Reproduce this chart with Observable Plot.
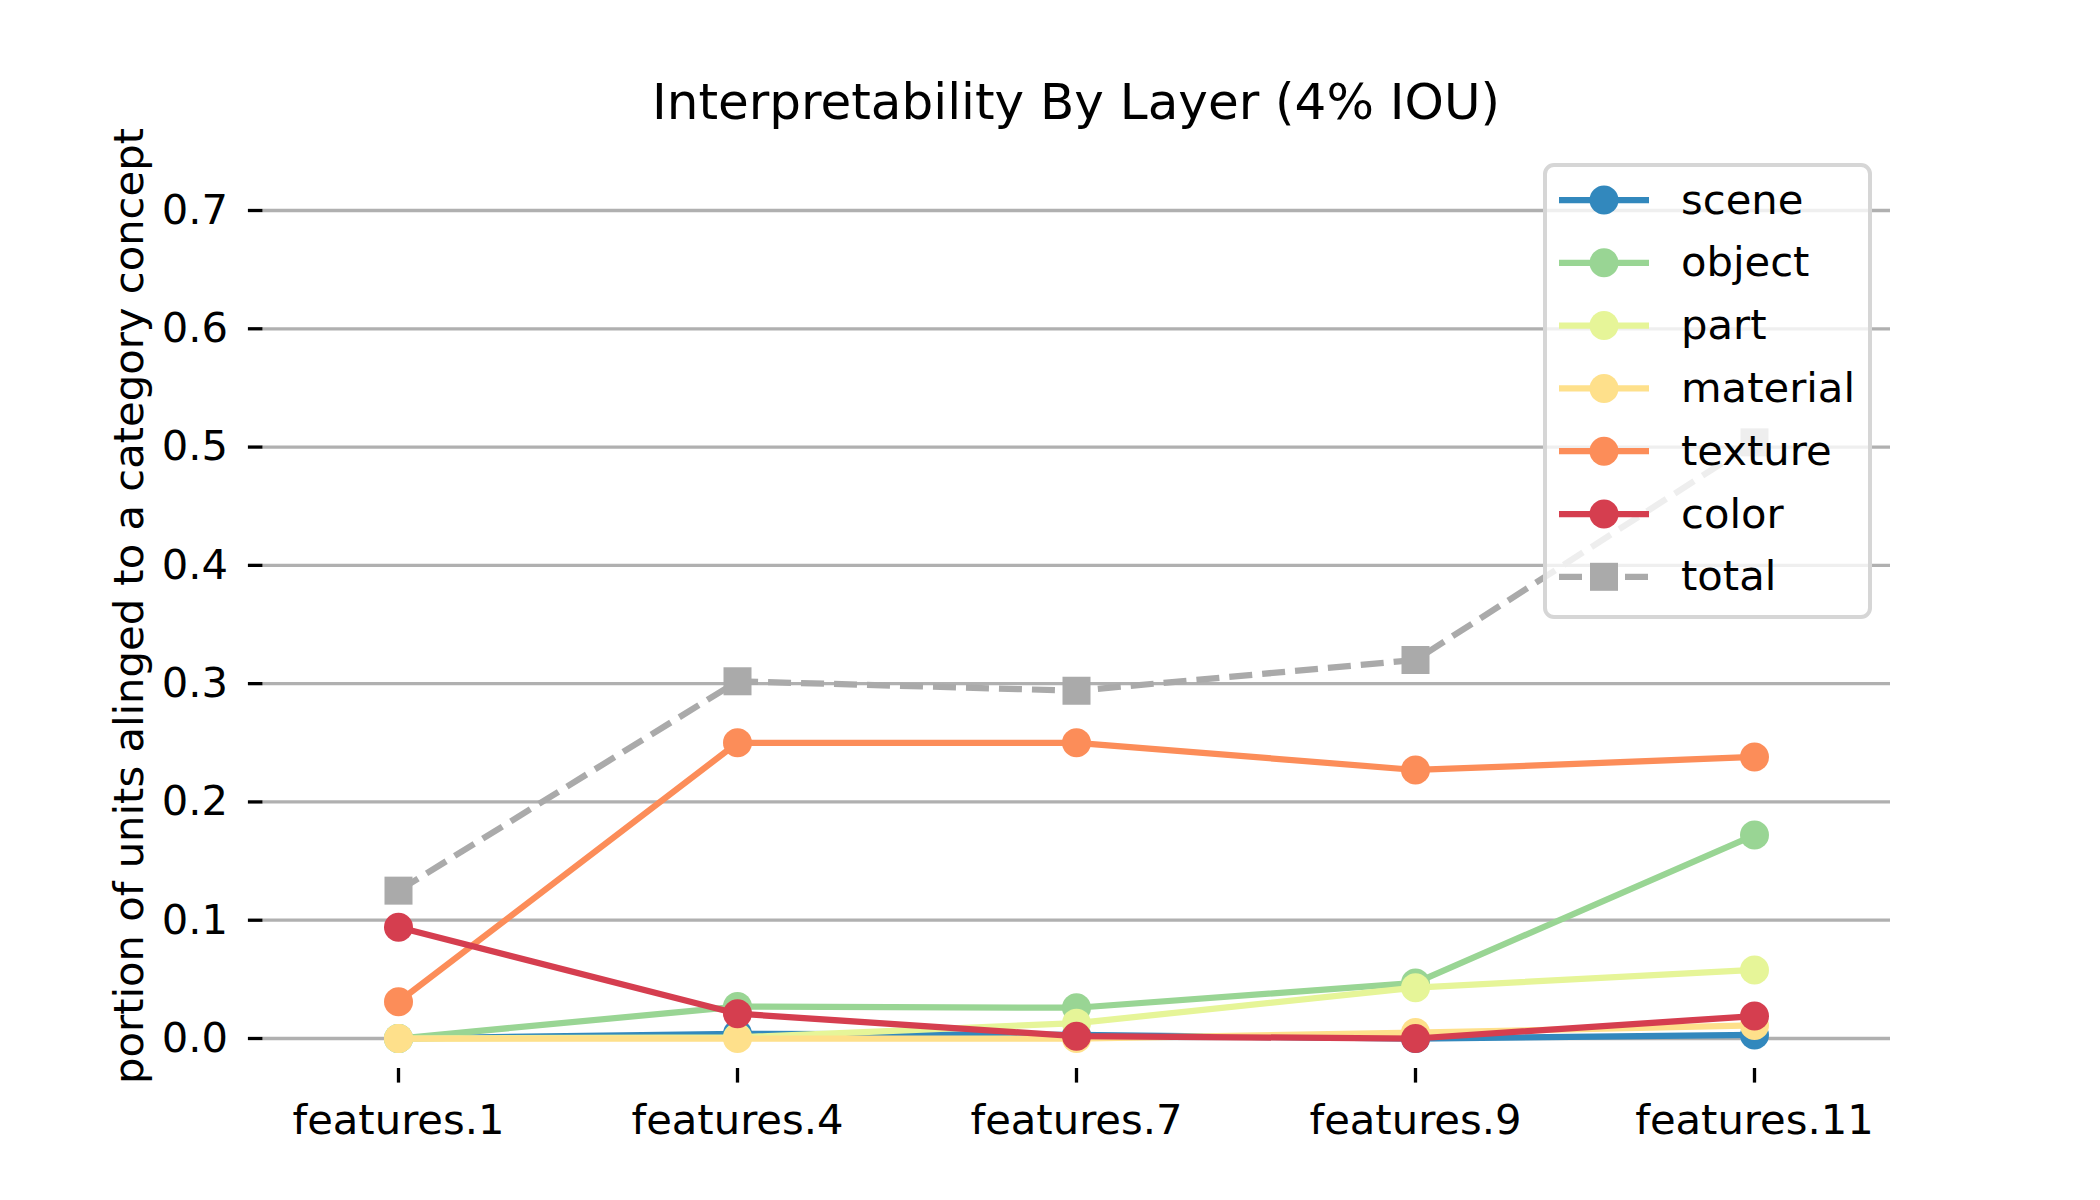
<!DOCTYPE html>
<html>
<head>
<meta charset="utf-8">
<script src="https://cdn.jsdelivr.net/npm/d3@7"></script>
<script src="https://cdn.jsdelivr.net/npm/@observablehq/plot@0.6"></script>
<style>
  html, body { margin: 0; padding: 0; background: #fff; overflow: hidden; }
  #chart { position: relative; width: 2100px; height: 1200px; }
</style>
</head>
<body>
<div id="chart"></div>
<script>
// ---- data ----
const layers   = ["features.1", "features.4", "features.7", "features.9", "features.11"];
const seriesNames = ["scene", "object", "part", "material", "texture", "color", "total"];
const scene    = [0.000, 0.004, 0.003, 0.000, 0.003];
const object   = [0.000, 0.027, 0.026, 0.047, 0.172];
const part     = [0.000, 0.001, 0.013, 0.043, 0.058];
const material = [0.000, 0.000, 0.000, 0.005, 0.011];
const texture  = [0.031, 0.250, 0.250, 0.227, 0.238];
const color    = [0.094, 0.021, 0.002, 0.000, 0.019];
const total    = [0.125, 0.302, 0.294, 0.320, 0.504];
const yTicks   = [0, 0.1, 0.2, 0.3, 0.4, 0.5, 0.6, 0.7];
const titleText = "Interpretability By Layer (4% IOU)";
const yLabelText = "portion of units alinged to a category concept";

// ---- styles ----
const palette = ["#3288bd", "#99d594", "#e6f598", "#fee08b", "#fc8d59", "#d53e4f", "#aaaaaa"];
const FONT = "DejaVu Sans";
const FS = 41.7;

const valuesBySeries = {scene, object, part, material, texture, color, total};
const rows = [];
for (const s of seriesNames) {
  valuesBySeries[s].forEach((v, i) => rows.push({layer: layers[i], value: v, series: s}));
}

const marks = [
  Plot.gridY(yTicks, {stroke: "#b0b0b0", strokeOpacity: 1, strokeWidth: 3.3}),
  Plot.axisY(yTicks, {tickSize: 14.6, tickPadding: 20.4, tickFormat: d3.format(".1f"), fontSize: FS, strokeWidth: 3.3, label: null}),
  Plot.axisX({tickSize: 14.6, tickPadding: 20.8, fontSize: FS, strokeWidth: 3.3, label: null})
];
for (const s of seriesNames) {
  const data = rows.filter(d => d.series === s);
  if (s === "total") {
    marks.push(Plot.line(data, {x: "layer", y: "value", stroke: "series", strokeWidth: 6.25, strokeDasharray: "23,10", strokeLinecap: "butt"}));
    marks.push(Plot.dot(data, {x: "layer", y: "value", fill: "series", symbol: "square", r: 15.8}));
  } else {
    marks.push(Plot.line(data, {x: "layer", y: "value", stroke: "series", strokeWidth: 6.25, strokeLinejoin: "round"}));
    marks.push(Plot.dot(data, {x: "layer", y: "value", fill: "series", r: 14.5}));
  }
}

const svg = Plot.plot({
  width: 2100,
  height: 1200,
  marginLeft: 262.5,
  marginRight: 210,
  marginTop: 144,
  marginBottom: 132,
  style: {fontFamily: FONT, fontSize: FS + "px", background: "white", color: "black", overflow: "visible"},
  x: {type: "point", domain: layers, padding: 0.4},
  y: {domain: [-0.02536, 0.7558]},
  color: {domain: seriesNames, range: palette},
  marks
});
document.getElementById("chart").appendChild(svg);

// ---- title, y label, legend ----
const root = d3.select(svg);
root.append("text")
  .attr("x", 1076).attr("y", 119)
  .attr("text-anchor", "middle")
  .attr("font-family", FONT).attr("font-size", 50).attr("fill", "black")
  .text(titleText);
root.append("text")
  .attr("transform", "translate(143,606) rotate(-90)")
  .attr("text-anchor", "middle")
  .attr("font-family", FONT).attr("font-size", FS).attr("fill", "black")
  .text(yLabelText);

const lg = root.append("g");
lg.append("rect")
  .attr("x", 1545).attr("y", 165).attr("width", 325).attr("height", 452)
  .attr("rx", 9).attr("fill", "white").attr("fill-opacity", 0.8)
  .attr("stroke", "#d6d6d6").attr("stroke-width", 4);
seriesNames.forEach((s, i) => {
  const cy = 200 + i * 62.8;
  const col = palette[i];
  if (s === "total") {
    lg.append("line").attr("x1", 1559).attr("x2", 1649).attr("y1", cy).attr("y2", cy)
      .attr("stroke", col).attr("stroke-width", 6.25).attr("stroke-dasharray", "23,10");
    lg.append("rect").attr("x", 1604 - 14).attr("y", cy - 14).attr("width", 28).attr("height", 28).attr("fill", col);
  } else {
    lg.append("line").attr("x1", 1559).attr("x2", 1649).attr("y1", cy).attr("y2", cy)
      .attr("stroke", col).attr("stroke-width", 6.25);
    lg.append("circle").attr("cx", 1604).attr("cy", cy).attr("r", 14.5).attr("fill", col);
  }
  lg.append("text").attr("x", 1681).attr("y", cy + 13.5)
    .attr("text-anchor", "start")
    .attr("font-family", FONT).attr("font-size", FS).attr("fill", "black")
    .text(s);
});
</script>
</body>
</html>
